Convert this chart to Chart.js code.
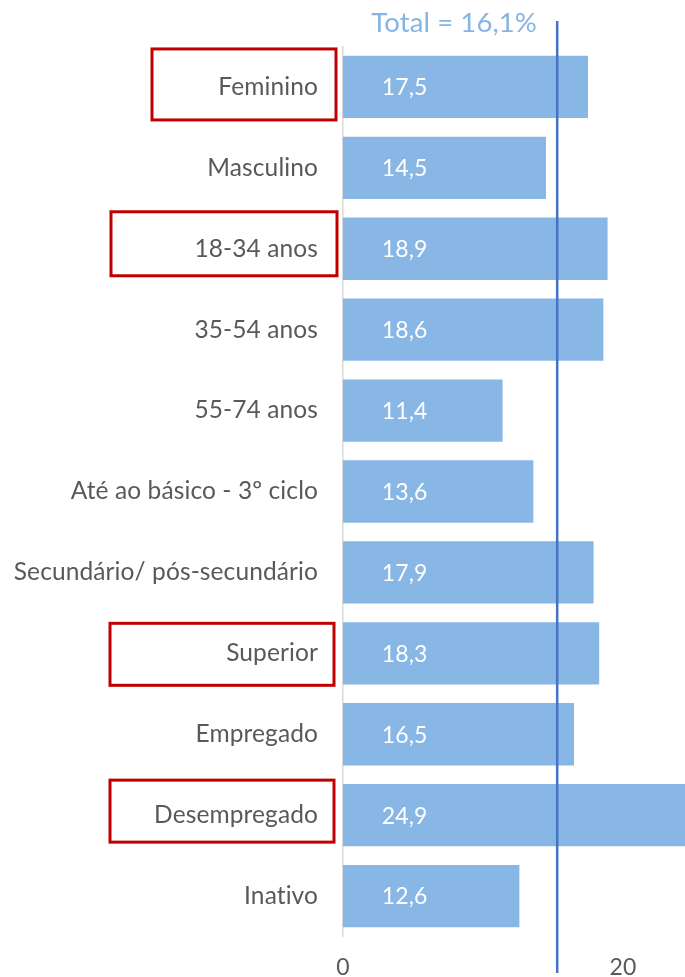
<!DOCTYPE html>
<html>
<head>
<meta charset="utf-8">
<script src="https://cdn.jsdelivr.net/npm/chart.js@4/dist/chart.umd.min.js"></script>
<style>
  html, body { margin: 0; padding: 0; background: #ffffff; }
  #wrap { width: 685px; height: 977px; position: relative; }
</style>
</head>
<body>
<div id="wrap"><canvas id="c"></canvas></div>
<script>
// ---- data ----
const categories = ['Feminino', 'Masculino', '18-34 anos', '35-54 anos', '55-74 anos',
  'Até ao básico - 3º ciclo', 'Secundário/ pós-secundário', 'Superior', 'Empregado',
  'Desempregado', 'Inativo'];
const values = [17.5, 14.5, 18.9, 18.6, 11.4, 13.6, 17.9, 18.3, 16.5, 24.9, 12.6];
const valueLabels = ['17,5', '14,5', '18,9', '18,6', '11,4', '13,6', '17,9', '18,3', '16,5', '24,9', '12,6'];
const xTickValues = [0, 20];
const totalLabel = 'Total = 16,1%';
const totalLineValue = 15.3;
const highlighted = ['Feminino', '18-34 anos', 'Superior', 'Desempregado'];

// ---- styles ----
const FONT = 'Lato, "Open Sans", sans-serif';
const boxStyle = {
  'Feminino':     { left: 152, right: 336, dTop: -38, dBottom: 33 },
  '18-34 anos':   { left: 111, right: 337, dTop: -37, dBottom: 27 },
  'Superior':     { left: 110, right: 334, dTop: -30, dBottom: 32 },
  'Desempregado': { left: 110, right: 334, dTop: -35, dBottom: 27 }
};

const overlay = {
  id: 'overlay',
  beforeDraw(chart) {
    // small letter spacing disables font ligatures (e.g. "ti")
    if ('letterSpacing' in chart.ctx) chart.ctx.letterSpacing = '0.1px';
  },
  afterDatasetsDraw(chart) {
    const ctx = chart.ctx;
    const x = chart.scales.x;
    const meta = chart.getDatasetMeta(0);
    ctx.save();
    ctx.fillStyle = '#ffffff';
    ctx.font = '23px ' + FONT;
    ctx.textAlign = 'center';
    ctx.textBaseline = 'middle';
    meta.data.forEach((bar, i) => {
      ctx.fillText(valueLabels[i], x.getPixelForValue(4.4), bar.y + 1);
    });
    ctx.restore();
  },
  afterDraw(chart) {
    const ctx = chart.ctx;
    const x = chart.scales.x, y = chart.scales.y;
    ctx.save();
    const lx = x.getPixelForValue(totalLineValue);
    ctx.strokeStyle = '#4472C4';
    ctx.lineWidth = 2.5;
    ctx.beginPath();
    ctx.moveTo(lx, 21);
    ctx.lineTo(lx, 973);
    ctx.stroke();
    ctx.fillStyle = '#86B4E4';
    ctx.font = '27.5px ' + FONT;
    ctx.textAlign = 'right';
    ctx.textBaseline = 'middle';
    ctx.fillText(totalLabel, 537, 23);
    ctx.strokeStyle = '#C00000';
    ctx.lineWidth = 3;
    highlighted.forEach(cat => {
      const i = categories.indexOf(cat);
      const cy = y.getPixelForValue(i);
      const s = boxStyle[cat];
      ctx.strokeRect(s.left, cy + s.dTop, s.right - s.left, s.dBottom - s.dTop);
    });
    ctx.restore();
  }
};

new Chart(document.getElementById('c'), {
  type: 'bar',
  data: {
    labels: categories,
    datasets: [{
      data: values,
      backgroundColor: '#88B7E6',
      borderWidth: 0,
      barPercentage: 0.77,
      categoryPercentage: 1.0
    }]
  },
  options: {
    indexAxis: 'y',
    responsive: true,
    maintainAspectRatio: false,
    animation: false,
    layout: { padding: { top: 46.5, right: 0, left: 0, bottom: 0 } },
    plugins: { legend: { display: false }, tooltip: { enabled: false } },
    scales: {
      x: {
        min: 0,
        max: 24.43,
        afterBuildTicks(scale) {
          scale.ticks = xTickValues.map(v => ({ value: v }));
        },
        afterFit(scale) { scale.height = 40.5; },
        grid: { display: false, drawTicks: false },
        border: { display: false },
        ticks: { color: '#595959', font: { family: FONT, size: 23 }, padding: 17, maxRotation: 0 }
      },
      y: {
        afterFit(scale) { scale.width = 343; },
        grid: { display: false, drawTicks: false },
        border: { display: true, color: '#D9D9D9', width: 1.5 },
        ticks: { color: '#595959', font: { family: FONT, size: 24.5 }, padding: 25, autoSkip: false }
      }
    }
  },
  plugins: [overlay]
});
</script>
</body>
</html>
